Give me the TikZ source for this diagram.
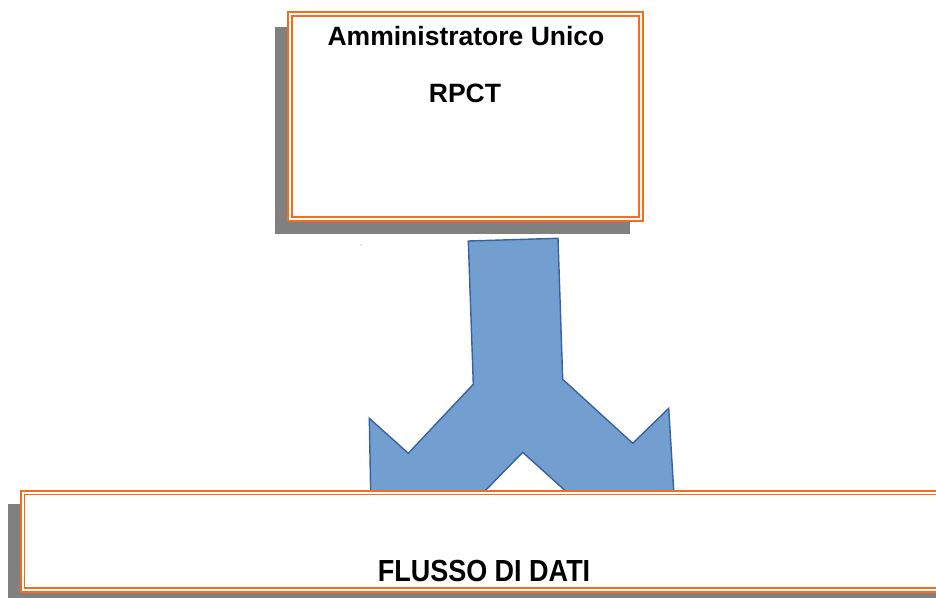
\documentclass[tikz,border=0pt]{standalone}
\usepackage{fontspec}
\setmainfont{Liberation Sans}
\usepackage{graphicx}
\definecolor{boxorange}{RGB}{247,108,24}
\definecolor{shadowgray}{RGB}{128,128,128}
\definecolor{arrowfill}{RGB}{114,159,207}
\definecolor{arrowline}{RGB}{54,98,164}
\begin{document}
\begin{tikzpicture}[x=1pt,y=-1pt,
  framebox/.style={draw=boxorange,double=white,double distance=2pt,line width=1.8pt,fill=white,rectangle,inner sep=0pt},
  shadowbox/.style={fill=shadowgray,draw=none},
  bigtext/.style={font=\fontsize{26.5}{30}\selectfont\bfseries,inner sep=0pt,anchor=base}]
\useasboundingbox (0,0) rectangle (936,597);
\clip (0,0) rectangle (936,597);
% shadows
\fill[shadowbox] (275,27) rectangle (630,234);
\fill[shadowbox] (8,504) rectangle (960,610);
% split arrow
\filldraw[fill=arrowfill,draw=arrowline,line width=1.4pt,line join=miter]
  (468.3,241) -- (558,238.3) -- (562.7,379.3) -- (632.7,443.3) -- (668.7,408.3)
  -- (674,495) -- (570,495) -- (522.7,452.3) -- (481,495) -- (370.7,495)
  -- (369.3,418.3) -- (408.3,453.3) -- (473.3,384.3) -- cycle;
\fill[arrowline!70] (361,245) circle (0.7);
% boxes
\node[framebox,minimum width=351pt,minimum height=205pt] (top) at (465.5,116.5) {};
\node[framebox,minimum width=960pt,minimum height=97.3pt,anchor=north west] (bottom) at (21.7,491.7) {};
% texts
\node[bigtext] (t1) at (466,45.7) {Amministratore Unico};
\node[bigtext] (t2) at (465,102) {RPCT};
\node[bigtext,font=\fontsize{30.5}{34}\selectfont\bfseries] (t3) at (484,581) {\scalebox{0.885}[1]{FLUSSO DI DATI}};
\end{tikzpicture}
\end{document}
